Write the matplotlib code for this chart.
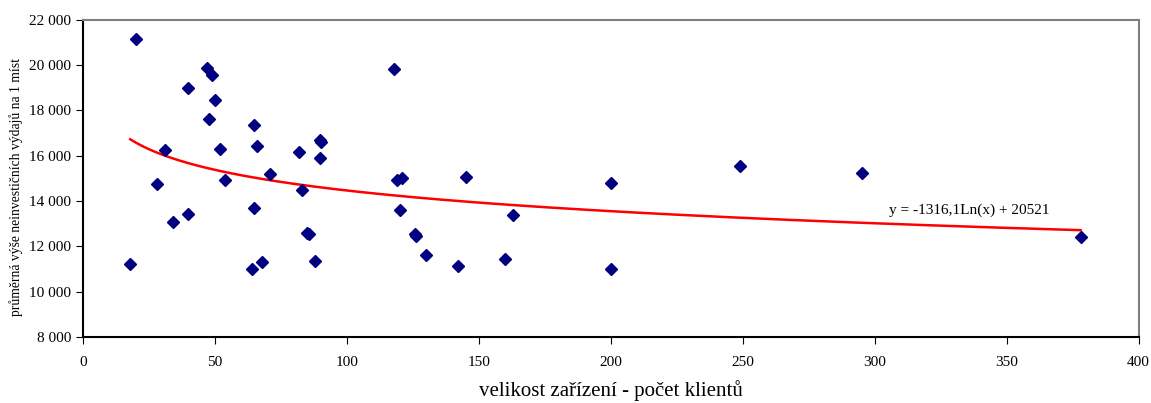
import matplotlib.pyplot as plt
import numpy as np

plt.rcParams['font.family'] = ['Liberation Serif', 'DejaVu Serif']

# data
x_vals = [18, 20, 28, 31, 34, 40, 40, 47, 48, 49, 50, 52, 54,
          64, 65, 65, 66, 68, 71, 82, 83, 85, 85.6, 88, 90, 90.4, 90,
          118, 119, 121, 120, 126, 126.4, 130, 142, 145, 160, 163,
          200, 200, 249, 295, 378]
y_vals = [11200, 21150, 14750, 16250, 13050, 19000, 13420, 19870, 17600, 19560, 18460, 16290, 14920,
          11000, 17350, 13680, 16420, 11310, 15180, 16160, 14480, 12600, 12520, 11350, 16700, 16620, 15890,
          19820, 14920, 15030, 13600, 12530, 12440, 11620, 11130, 15060, 11440, 13370,
          14800, 11000, 15540, 15220, 12390]

# logarithmic trend  y = -1316,1 ln(x) + 20521
a = -1316.1
b = 20521
eq_text = 'y = -1316,1Ln(x) + 20521'

fig, ax = plt.subplots(figsize=(11.51, 4.03), dpi=100)
fig.subplots_adjust(left=0.0719, right=0.9893, bottom=0.1638, top=0.9516)

ax.plot(x_vals, y_vals, linestyle='none', marker='D', markersize=6.5,
        color='#000080', zorder=3)

xt = np.linspace(min(x_vals), max(x_vals), 300)
ax.plot(xt, a * np.log(xt) + b, color='#ff0000', linewidth=1.8, zorder=2)

ax.text(336, 13600, eq_text, fontsize=11, ha='center', va='center')

ax.set_xlim(0, 400)
ax.set_ylim(8000, 22000)
ax.set_xticks(np.arange(0, 401, 50))
ax.set_yticks(np.arange(8000, 22001, 2000))
ax.yaxis.set_major_formatter(plt.FuncFormatter(lambda v, p: f'{int(v):,}'.replace(',', ' ')))
ax.tick_params(direction='out', length=5, labelsize=11, color='black')
ax.tick_params(axis='x', pad=9)

ax.spines['left'].set_color('black')
ax.spines['bottom'].set_color('black')
ax.spines['top'].set_color('#808080')
ax.spines['right'].set_color('#808080')
for s in ax.spines.values():
    s.set_linewidth(1.5)

ax.set_xlabel('velikost zařízení - počet klientů', fontsize=15, labelpad=8)
ax.set_ylabel('průměrná výše neinvestičních výdajů na 1 míst', fontsize=9.8)
ax.yaxis.set_label_coords(-0.057, 0.472)

fig.savefig('out.png', dpi=100)
